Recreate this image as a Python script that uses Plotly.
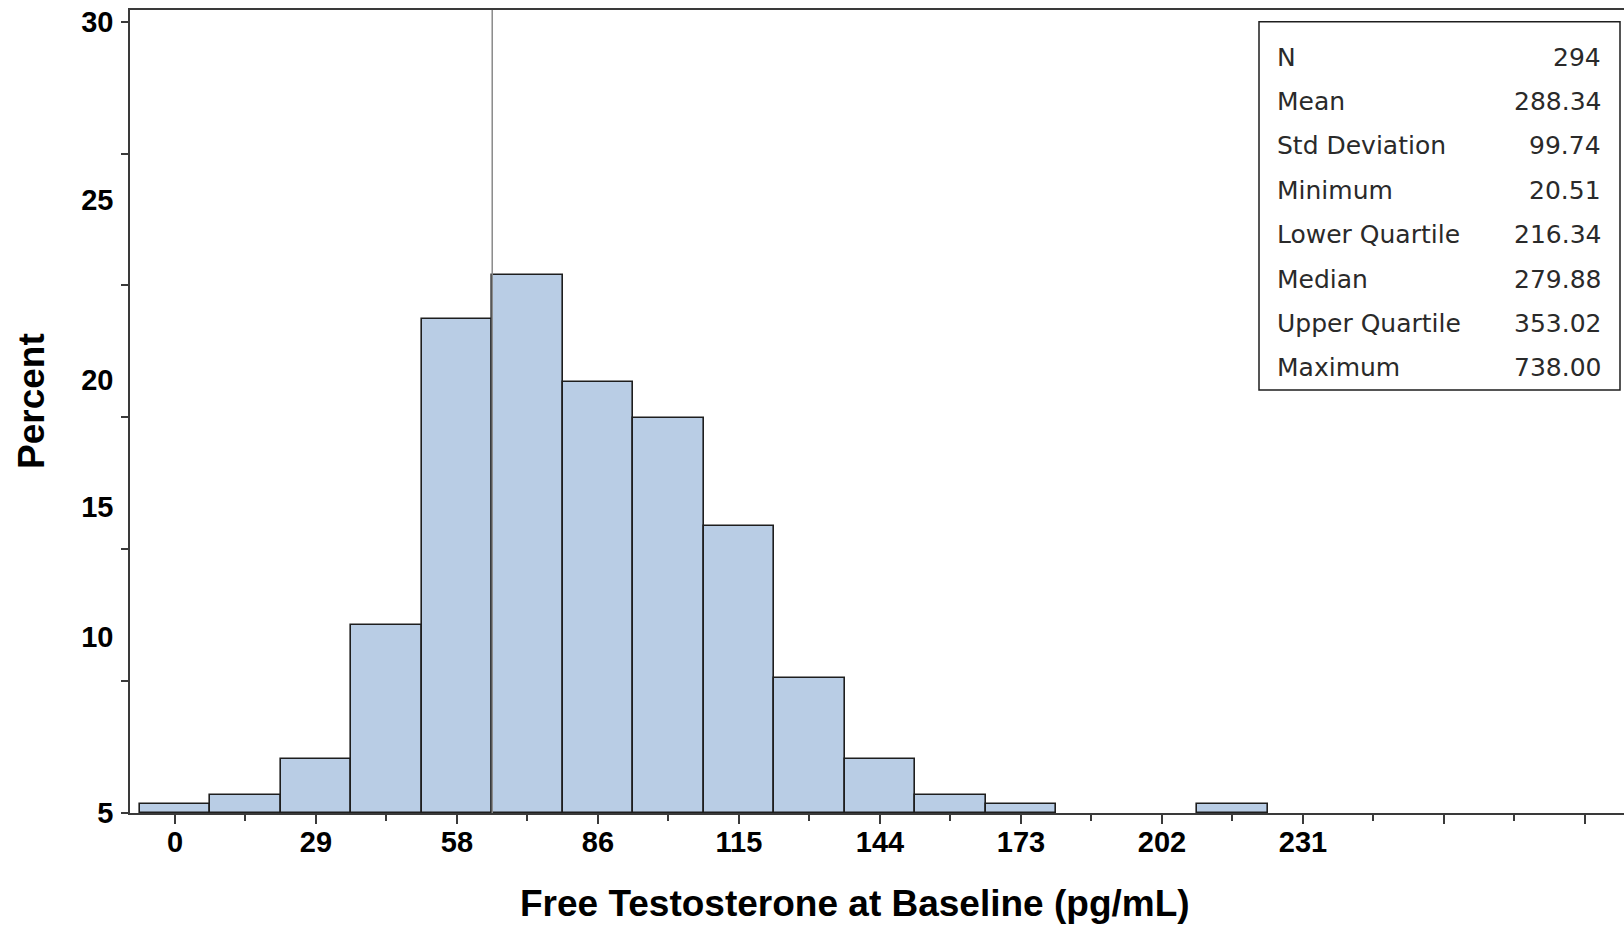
import plotly.graph_objects as go

# ---- data ----
bin_centers = [0, 50, 100, 150, 200, 250, 300, 350, 400, 450, 500, 550, 600, 650, 700, 750]
percent = [0.34, 0.68, 2.04, 7.14, 18.71, 20.41, 16.33, 14.97, 10.88, 5.10, 2.04, 0.68, 0.34, 0.0, 0.0, 0.34]
bin_width = 50
ref_line_x = 225

x_tickvals = [0, 100, 200, 300, 400, 500, 600, 700, 800, 900, 1000]
x_ticktext = ["0", "29", "58", "86", "115", "144", "173", "202", "231", "", ""]
x_minorvals = [50, 150, 250, 350, 450, 550, 650, 750, 850, 950]

y_label_vals = [0, 6.68, 11.61, 16.42, 23.24, 30]
y_label_text = ["5", "10", "15", "20", "25", "30"]
y_tick_marks = [0, 5, 10, 15, 20, 25, 30]

stat_labels = ["N", "Mean", "Std Deviation", "Minimum", "Lower Quartile", "Median", "Upper Quartile", "Maximum"]
stat_values = ["294", "288.34", "99.74", "20.51", "216.34", "279.88", "353.02", "738.00"]

x_title = "Free Testosterone at Baseline (pg/mL)"
y_title = "Percent"

# ---- layout geometry (pixels) ----
W, H = 1624, 925
L, T, B, R = 130, 10, 112, 0
plot_w = W - L - R
plot_h = H - T - B


def px_x(p):
    return (p - L) / plot_w


def px_y(p):
    return (H - B - p) / plot_h


AXC = "#3a3a3a"
bold_font = dict(family="Liberation Sans, Arial, sans-serif", size=29, color="black", weight="bold")

xs = [c for c, v in zip(bin_centers, percent) if v > 0]
ys = [v for v in percent if v > 0]

fig = go.Figure()
fig.add_trace(go.Bar(
    x=xs, y=ys, width=bin_width,
    marker=dict(color="#B9CDE5", line=dict(color="#1e1e1e", width=1.6)),
    showlegend=False, hoverinfo="x+y",
))
# helper trace for the tick-mark axis
fig.add_trace(go.Scatter(x=[None], y=[None], yaxis="y2", showlegend=False, hoverinfo="skip"))

fig.add_shape(type="line", xref="x", yref="paper", x0=ref_line_x, x1=ref_line_x, y0=0, y1=1,
              line=dict(color="#8a8a8a", width=1.5), layer="above")

# stats box
fig.add_shape(type="rect", xref="paper", yref="paper",
              x0=px_x(1259), x1=px_x(1620), y0=px_y(390), y1=px_y(21.7),
              line=dict(color="#1e1e1e", width=1.5), fillcolor="white", layer="above")
stat_font = dict(family="DejaVu Sans, sans-serif", size=25, color="#2a2a2a")
for i, (lab, val) in enumerate(zip(stat_labels, stat_values)):
    yc = 57 + 44.4 * i
    fig.add_annotation(xref="paper", yref="paper", x=px_x(1275), y=px_y(yc), text=lab,
                       showarrow=False, xanchor="left", yanchor="middle", font=stat_font)
    fig.add_annotation(xref="paper", yref="paper", x=px_x(1603), y=px_y(yc), text=val,
                       showarrow=False, xanchor="right", yanchor="middle", font=stat_font)

# axis titles
title_font = dict(family="Liberation Sans, Arial, sans-serif", size=37, color="black", weight="bold")
fig.add_annotation(xref="paper", yref="paper", x=px_x(855), y=px_y(903), text=x_title,
                   showarrow=False, xanchor="center", yanchor="middle", font=title_font)
fig.add_annotation(xref="paper", yref="paper", x=px_x(32), y=px_y(401), text=y_title,
                   showarrow=False, xanchor="center", yanchor="middle", textangle=-90, font=title_font)

fig.update_layout(
    width=W, height=H,
    margin=dict(l=L, r=R, t=T, b=B, pad=0),
    paper_bgcolor="white", plot_bgcolor="white",
    bargap=0,
    xaxis=dict(
        range=[-31.9, 1027.7], showgrid=False, zeroline=False,
        showline=True, linecolor=AXC, linewidth=1.6, mirror=True,
        tickmode="array", tickvals=x_tickvals, ticktext=x_ticktext,
        ticks="outside", ticklen=9, tickwidth=1.6, tickcolor=AXC,
        tickfont=bold_font, ticklabelstandoff=-7,
        minor=dict(tickmode="array", tickvals=x_minorvals, ticks="outside", ticklen=6,
                   tickwidth=1.6, tickcolor=AXC, showgrid=False),
    ),
    yaxis=dict(
        range=[0, 30.44], showgrid=False, zeroline=False,
        showline=True, linecolor=AXC, linewidth=1.6, mirror=False,
        tickmode="array", tickvals=y_label_vals, ticktext=y_label_text,
        ticks="", tickfont=bold_font, ticklabelstandoff=9,
    ),
    yaxis2=dict(
        range=[0, 30.44], overlaying="y", side="left", anchor="x",
        showgrid=False, zeroline=False, showline=False,
        tickmode="array", tickvals=y_tick_marks, showticklabels=False,
        ticks="outside", ticklen=8, tickwidth=1.6, tickcolor=AXC,
    ),
)

fig.write_html("out.html", config={"displayModeBar": False},
               post_script="document.body.style.margin='0px';")
